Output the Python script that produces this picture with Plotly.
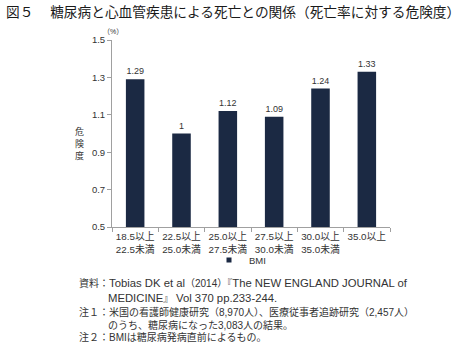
import plotly.graph_objects as go

# BMI categories and hazard ratios
categories = ["18.5以上<br>22.5未満", "22.5以上<br>25.0未満", "25.0以上<br>27.5未満",
              "27.5以上<br>30.0未満", "30.0以上<br>35.0未満", "35.0以上"]
risk = [1.29, 1.00, 1.12, 1.09, 1.24, 1.33]
y_ticks = [0.5, 0.7, 0.9, 1.1, 1.3, 1.5]

W, H = 461, 344
L, R, T, B = 112, 71, 40, 117
JP = "Noto Sans CJK JP"
MIX = "Liberation Sans, Noto Sans CJK JP"
BAR = "#1b2943"
TXT = "#333333"
AX = "#a0a0a0"

fig = go.Figure()
fig.add_trace(go.Bar(
    x=categories, y=risk, name="BMI", showlegend=False,
    marker=dict(color=BAR, line=dict(width=0)),
    texttemplate="%{y}", textposition="outside",
    textfont=dict(family=MIX, size=9, color=TXT),
    cliponaxis=False,
))
# legend entry for the series (small square key)
fig.add_trace(go.Scatter(
    x=[None], y=[None], mode="markers", name="BMI",
    marker=dict(symbol="square", size=5, color=BAR),
))

fig.update_layout(
    width=W, height=H,
    margin=dict(l=L, r=R, t=T, b=B),
    paper_bgcolor="white", plot_bgcolor="white",
    bargap=0.6,
    font=dict(family=MIX, color=TXT),
    showlegend=True,
    legend=dict(orientation="h", x=(209 - L) / (W - L - R), xanchor="left",
                y=-(260 - (H - B)) / (H - T - B), yanchor="middle",
                font=dict(family=MIX, size=9.5, color=TXT),
                itemwidth=30, tracegroupgap=0,
                bgcolor="rgba(0,0,0,0)"),
    xaxis=dict(showline=True, linecolor=AX, linewidth=1,
               ticks="outside", ticklen=4, tickcolor=AX,
               tickson="boundaries", ticklabelstandoff=0, tickangle=0,
               tickfont=dict(family=MIX, size=9.8, color=TXT),
               showgrid=False),
    yaxis=dict(range=[0.5, 1.5], tickvals=y_ticks,
               ticktext=[f"{v:.1f}" for v in y_ticks],
               showline=True, linecolor=AX, linewidth=1,
               ticks="outside", ticklen=4, tickcolor=AX,
               tickfont=dict(family=MIX, size=9.5, color=TXT),
               showgrid=False, zeroline=False),
)


def px_note(text, x, y, size, family=MIX, color=TXT, xanchor="left"):
    # place a text block by pixel position on the page
    fig.add_annotation(text=text, xref="paper", yref="paper",
                       x=(x - L) / (W - L - R),
                       y=(H - B - y) / (H - T - B),
                       xanchor=xanchor, yanchor="middle",
                       showarrow=False, align="left",
                       font=dict(family=family, size=size, color=color))


def latin(s, size=11.3):
    return f"<span style='font-size:{size}px'>{s}</span>"


# Title
px_note("図５　 糖尿病と心血管疾患による死亡との関係（死亡率に対する危険度）",
        4, 11, 13.7, family=JP, color="#1a1a1a")
# Unit and vertical axis title
px_note("（%）", 113, 31, 7, xanchor="center")
for ch, yy in zip("危険度", [131, 143, 155]):
    px_note(ch, 79, yy, 9, family=JP, xanchor="center")
# Source and notes
px_note("資料：" + latin("Tobias DK et al") + "（2014）『" +
        latin("The NEW ENGLAND JOURNAL of"), 77, 283, 10)
px_note(latin("MEDICINE") + "』 " + latin("Vol 370 pp.233-244."), 106, 298, 10)
px_note("注１：米国の看護師健康研究（8,970人）、医療従事者追跡研究（2,457人）", 77, 312, 10)
px_note("のうち、糖尿病になった3,083人の結果。", 106, 325, 10)
px_note("注２：BMIは糖尿病発病直前によるもの。", 77, 337, 10)

fig.write_html("out.html")
